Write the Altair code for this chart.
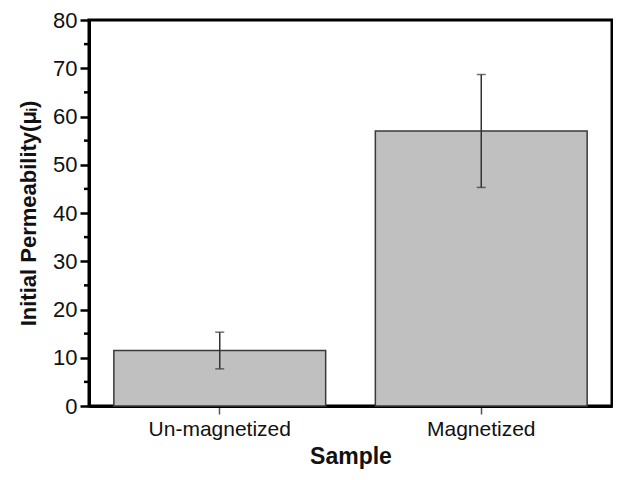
import altair as alt
import pandas as pd

samples = ["Un-magnetized", "Magnetized"]
means = [11.5, 57.0]
errors = [3.8, 11.7]
minor_ticks = [5, 15, 25, 35, 45, 55, 65, 75]

df = pd.DataFrame({
    "Sample": samples,
    "mean": means,
    "lo": [m - e for m, e in zip(means, errors)],
    "hi": [m + e for m, e in zip(means, errors)],
})
minor_df = pd.DataFrame({"v": minor_ticks})

FONT = "Liberation Sans"

x_enc = alt.X(
    "Sample:N", sort=samples, title="Sample",
    scale=alt.Scale(paddingInner=0.19, paddingOuter=0.095),
    axis=alt.Axis(labelAngle=0, labelFontSize=21, titleFontSize=23, titleFontWeight="bold",
                  tickSize=8, tickWidth=1.5, tickColor="#555555", labelPadding=4,
                  titlePadding=6, domainWidth=3, domainColor="black",
                  labelColor="#111111", titleColor="#111111", labelFont=FONT, titleFont=FONT),
)
y_scale = alt.Scale(domain=[0, 80], nice=False)

bars = alt.Chart(df).mark_bar(
    color="#c0c0c0", stroke="#3a3a3a", strokeWidth=1.5
).encode(
    x=x_enc,
    y=alt.Y("mean:Q", scale=y_scale, title="Initial Permeability(μᵢ)",
            axis=alt.Axis(values=list(range(0, 81, 10)), labelFontSize=22, titleFontSize=22,
                          titleFontWeight="bold", tickSize=9, tickWidth=2.5, tickColor="black",
                          labelPadding=3, titlePadding=12, domainWidth=3, domainColor="black",
                          grid=False, labelColor="#111111", titleColor="#111111",
                          labelFont=FONT, titleFont=FONT)),
)

rules = alt.Chart(df).mark_rule(color="#333333", strokeWidth=1.5).encode(
    x=alt.X("Sample:N", sort=samples),
    y=alt.Y("lo:Q", scale=y_scale),
    y2="hi:Q",
)
caps_hi = alt.Chart(df).mark_tick(color="#333333", thickness=1.5, size=9, orient="horizontal").encode(
    x=alt.X("Sample:N", sort=samples),
    y=alt.Y("hi:Q", scale=y_scale),
)
caps_lo = alt.Chart(df).mark_tick(color="#333333", thickness=1.5, size=9, orient="horizontal").encode(
    x=alt.X("Sample:N", sort=samples),
    y=alt.Y("lo:Q", scale=y_scale),
)
minor = alt.Chart(minor_df).mark_rule(color="black", strokeWidth=2.5).encode(
    y=alt.Y("v:Q", scale=y_scale),
    x=alt.value(-5),
    x2=alt.value(0),
)

chart = alt.layer(bars, rules, caps_hi, caps_lo, minor).properties(
    width=523, height=386,
    background="white",
    autosize=alt.AutoSizeParams(type="none"),
    padding={"left": 81, "top": 12, "right": 1, "bottom": 66},
).configure_view(
    stroke="black", strokeWidth=3
)

chart.save("out.html", embed_options={"renderer": "svg", "actions": False})
